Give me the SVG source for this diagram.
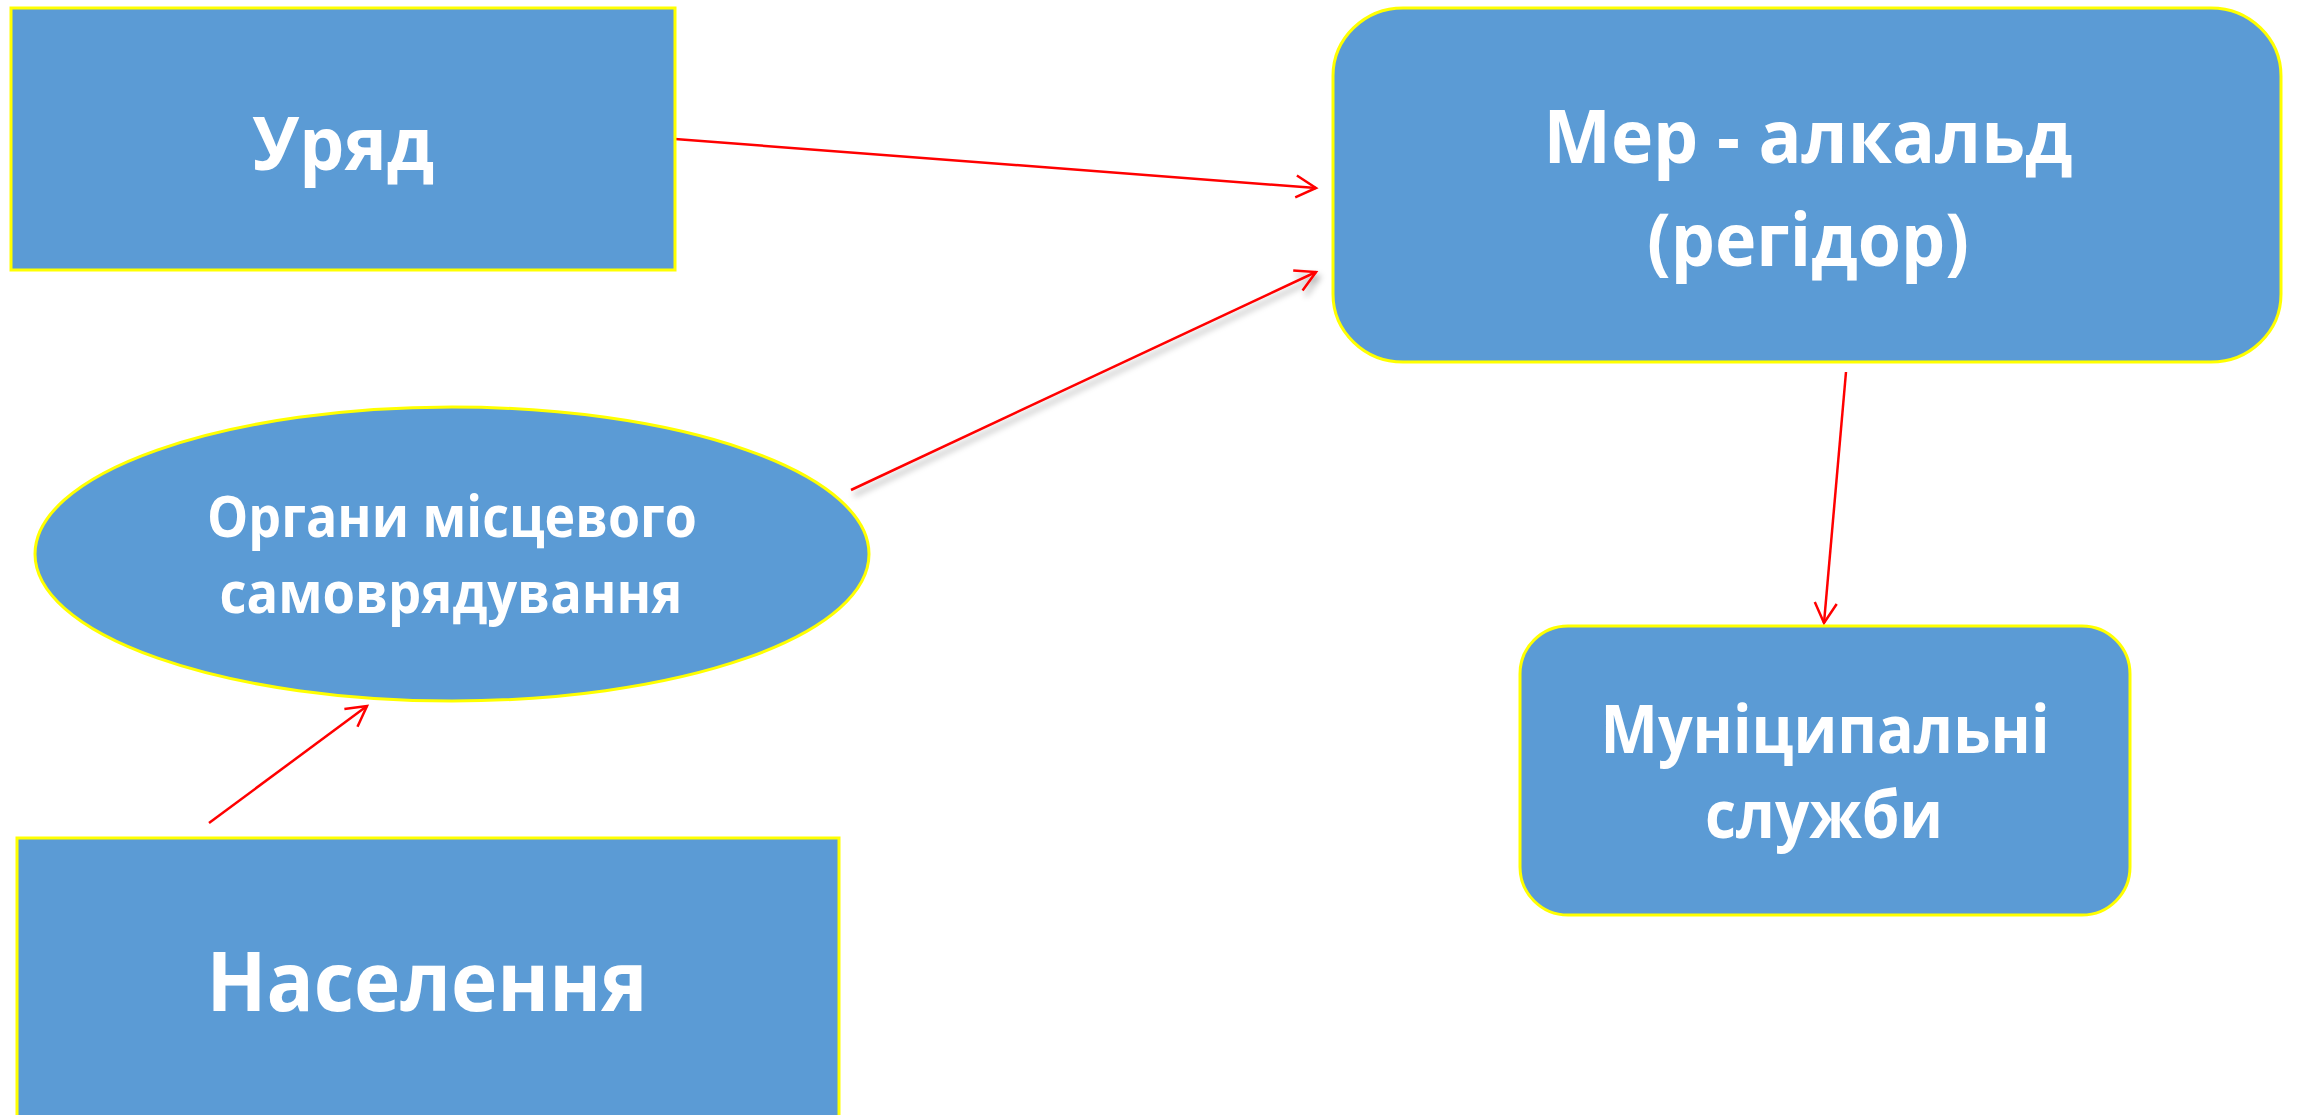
<svg xmlns="http://www.w3.org/2000/svg" width="2300" height="1115" viewBox="0 0 2300 1115">
<style>
.node{fill:#5B9BD5;stroke:#FFFF00;stroke-width:3}
.lbl{fill:#FFFFFF;font-family:"Open Sans","Noto Sans","Liberation Sans",sans-serif;font-weight:bold;text-anchor:middle}
.conn{stroke:#FF0000;stroke-width:2.5;fill:none}
</style>
<defs>
<marker id="arr" markerUnits="userSpaceOnUse" markerWidth="30" markerHeight="30" viewBox="-24 -15 28 30" refX="0" refY="0" orient="auto">
<path d="M-20,-11 L0,0 L-20,11" fill="none" stroke="#FF0000" stroke-width="2.5"/>
</marker>
<filter id="sh" x="-10%" y="-10%" width="120%" height="130%">
<feDropShadow dx="3" dy="5" stdDeviation="3" flood-color="#000" flood-opacity="0.35"/>
</filter>
</defs>
<rect width="2300" height="1115" fill="#FFFFFF"/>
<g id="connectors">
<line class="conn" x1="675" y1="139" x2="1316" y2="188" marker-end="url(#arr)"/>
<line class="conn" x1="851" y1="490" x2="1316" y2="272" marker-end="url(#arr)" filter="url(#sh)"/>
<line class="conn" x1="1846" y1="372" x2="1824" y2="623" marker-end="url(#arr)"/>
<line class="conn" x1="209" y1="823" x2="367" y2="706" marker-end="url(#arr)"/>
</g>
<g id="uriad">
<rect class="node" x="11" y="8" width="664" height="262"/>
<text class="lbl" x="343" y="170" font-size="74" textLength="182" lengthAdjust="spacingAndGlyphs">Уряд</text>
</g>
<g id="mer">
<rect class="node" x="1333" y="8" width="948" height="354" rx="70" ry="68"/>
<text class="lbl" x="1808" y="163" font-size="74" textLength="529" lengthAdjust="spacingAndGlyphs">Мер - алкальд</text>
<text class="lbl" x="1808" y="266" font-size="74" textLength="322" lengthAdjust="spacingAndGlyphs">(регідор)</text>
</g>
<g id="organy">
<ellipse class="node" cx="452" cy="554" rx="417" ry="147"/>
<text class="lbl" x="452" y="537" font-size="58" textLength="490" lengthAdjust="spacingAndGlyphs">Органи місцевого</text>
<text class="lbl" x="451" y="613" font-size="58" textLength="463" lengthAdjust="spacingAndGlyphs">самоврядування</text>
</g>
<g id="munitsypalni">
<rect class="node" x="1520" y="626" width="610" height="289" rx="48" ry="48"/>
<text class="lbl" x="1825" y="753" font-size="66" textLength="449" lengthAdjust="spacingAndGlyphs">Муніципальні</text>
<text class="lbl" x="1824" y="838" font-size="66" textLength="238" lengthAdjust="spacingAndGlyphs">служби</text>
</g>
<g id="naselennia">
<rect class="node" x="17" y="838" width="822" height="290"/>
<text class="lbl" x="427" y="1011" font-size="83" textLength="441" lengthAdjust="spacingAndGlyphs">Населення</text>
</g>
</svg>
